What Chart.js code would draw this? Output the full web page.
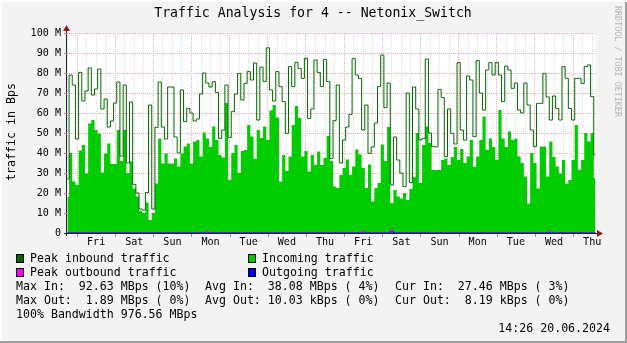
<!DOCTYPE html>
<html lang="en">
<head>
  <meta charset="UTF-8">
  <title>Traffic Analysis for 4 -- Netonix_Switch</title>
  <script src="https://cdn.jsdelivr.net/npm/chart.js"></script>
  <style>
    body {
      margin: 0;
      background: #f3f3f3;
    }
    canvas {
      display: block;
    }
  </style>
</head>
<body>
  <canvas id="traffic" width="627" height="343"></canvas>

  <script>
    // one sample every 2 hours, hour 0 = Friday 00:00 of the first week
    const START_HOUR = -6;
    const STEP_HOURS = 2;

    const dayLabels = ['Fri', 'Sat', 'Sun', 'Mon', 'Tue', 'Wed', 'Thu',
                       'Fri', 'Sat', 'Sun', 'Mon', 'Tue', 'Wed', 'Thu'];

    const yTickLabels = ['0', '10 M', '20 M', '30 M', '40 M', '50 M', '60 M', '70 M', '80 M', '90 M', '100 M'];

    // peak inbound, MBps (millions)
    const peakIn = [
      27, 79, 74, 47, 80.3, 66, 71, 82.5, 69, 72,
      82, 62, 67, 53, 56, 65, 75.5, 38.5, 74, 35,
      65.5, 24.3, 20, 12, 11.5, 20.2, 64, 12, 52.8, 75.5,
      53, 47, 73, 73, 48, 40, 71.5, 55.7, 62.3, 60,
      56, 57, 69.5, 80, 75, 73, 75.7, 70.3, 47.3, 51.5,
      74, 47.8, 60.7, 69.5, 79.8, 66.5, 74.8, 80.7, 76.5, 85,
      56.5, 83, 75.7, 92.6, 71.5, 66, 80.7, 73.2, 65.7, 49.8,
      83.2, 73.2, 85.3, 82.3, 77.3, 87.3, 57.2, 62, 86.5, 80.3,
      73.2, 86.8, 75.7, 37.3, 56.2, 74, 35, 46.5, 53, 59.3,
      87.2, 79, 77.3, 51.5, 64, 39.8, 43, 55, 73.2, 89,
      62.7, 75, 24, 48, 36.5, 30, 23.2, 70, 25.2, 73,
      62, 46.5, 47.3, 87, 50, 43.2, 43, 71.8, 67.7, 38.2,
      62, 49.8, 44.5, 85.2, 51.5, 46.5, 78.5, 76.5, 48.2, 86.2,
      70, 61.5, 81.5, 85.2, 79, 85.2, 79, 65.7, 83.5, 81.5,
      72.3, 75, 61.5, 60, 75, 64, 51.5, 43.2, 64.8, 64.8,
      79.8, 68, 56.5, 68.5, 62.3, 56.5, 83.2, 77.3, 62.3, 56.5,
      77.3, 77.3, 74.8, 83.2, 84, 68.2, 39
    ];

    // incoming traffic, MBps (millions)
    const incoming = [
      18, 40, 25.7, 24, 41.2, 44, 29.8, 54.8, 56.5, 51.5,
      49.8, 30.2, 39.8, 44.8, 34.5, 34.5, 51.5, 36, 51.5, 30,
      35.7, 22.3, 18.2, 11, 10, 15.2, 6.5, 10, 24.8, 47.3,
      34.8, 39.8, 34.8, 34.8, 37.3, 33.2, 39.8, 43.2, 44.8, 34.8,
      45.7, 46.5, 38.2, 50.2, 47.3, 43, 53.2, 46.5, 39, 37.8,
      65, 26.5, 40, 44, 30, 41, 41.5, 54, 48.3, 37,
      51.5, 47.5, 53.2, 46.5, 61.2, 64, 57.8, 25.7, 39, 31,
      38.3, 54, 63.5, 57.5, 38.3, 41, 30.7, 39, 34, 40.8,
      34, 37.5, 48.5, 36, 23.2, 22.5, 29, 32.5, 36.7, 29,
      33.3, 41.7, 39.2, 32.5, 22.5, 34.2, 15.7, 22.5, 25, 44.2,
      36, 53, 15, 21.5, 18.2, 17.3, 20, 16.5, 22, 28,
      50, 25, 44, 53.2, 45, 31.5, 31.5, 31.5, 36.5, 37.3,
      34, 38, 43, 36.5, 42, 35, 38.2, 46.5, 33, 38.2,
      46.5, 58.2, 41.5, 47.3, 43, 36.5, 61.5, 47.3, 43, 50.7,
      46.5, 47.3, 38.2, 35, 28.2, 14.8, 40, 35, 22.3, 43.2,
      43.2, 28.2, 45.7, 38, 33.2, 29.8, 36.5, 24.8, 26.5, 36.5,
      54, 31.5, 36.5, 50, 45.7, 50, 27.5
    ];

    // peak outbound, MBps (millions)
    const peakOut = [
      0.01, 0.01, 0.01, 0.01, 0.01, 0.01, 0.01, 0.01, 0.01, 0.01,
      0.01, 0.01, 0.01, 0.01, 0.01, 0.01, 0.01, 0.01, 0.01, 0.01,
      0.01, 0.01, 0.01, 0.01, 0.01, 0.01, 0.01, 0.01, 0.01, 0.01,
      0.01, 0.01, 0.01, 0.01, 0.01, 0.01, 0.01, 0.01, 0.01, 0.01,
      0.01, 0.01, 0.01, 0.01, 0.8, 0.01, 0.01, 0.01, 0.01, 0.01,
      0.01, 0.01, 0.01, 0.01, 0.01, 0.01, 0.01, 0.01, 0.01, 0.01,
      0.01, 0.01, 0.01, 0.01, 0.01, 0.01, 0.01, 0.01, 0.01, 0.01,
      0.01, 0.01, 0.01, 0.01, 0.01, 0.01, 0.01, 0.01, 0.01, 0.01,
      0.01, 0.01, 0.01, 0.01, 0.01, 0.01, 0.01, 0.01, 0.01, 0.01,
      0.01, 0.01, 0.01, 0.8, 0.01, 0.01, 0.01, 0.01, 0.01, 0.01,
      0.01, 0.01, 1.89, 0.01, 0.01, 0.01, 0.01, 0.01, 0.01, 0.01,
      0.01, 0.01, 0.01, 0.01, 0.01, 0.01, 0.01, 0.01, 0.01, 0.01,
      0.01, 0.01, 0.01, 0.01, 0.01, 0.01, 0.01, 0.01, 0.01, 0.01,
      0.01, 0.01, 0.01, 0.01, 0.01, 0.01, 0.01, 0.01, 0.01, 0.01,
      0.01, 0.01, 0.01, 0.01, 0.01, 0.01, 0.01, 0.01, 0.01, 0.01,
      0.01, 0.01, 0.8, 0.01, 0.01, 0.01, 0.01, 0.01, 0.01, 0.01,
      0.01, 0.01, 0.01, 0.01, 0.01, 0.01, 0.01
    ];

    // outgoing traffic, MBps (millions)
    const outgoing = [
      0.01, 0.01, 0.01, 0.01, 0.01, 0.01, 0.01, 0.01, 0.01, 0.01,
      0.01, 0.01, 0.01, 0.01, 0.01, 0.01, 0.01, 0.01, 0.01, 0.01,
      0.01, 0.01, 0.01, 0.01, 0.01, 0.01, 0.01, 0.01, 0.01, 0.01,
      0.01, 0.01, 0.01, 0.01, 0.01, 0.01, 0.01, 0.01, 0.01, 0.01,
      0.01, 0.01, 0.01, 0.01, 0.01, 0.01, 0.01, 0.01, 0.01, 0.01,
      0.01, 0.01, 0.01, 0.01, 0.01, 0.01, 0.01, 0.01, 0.01, 0.01,
      0.01, 0.01, 0.01, 0.01, 0.01, 0.01, 0.01, 0.01, 0.01, 0.01,
      0.01, 0.01, 0.01, 0.01, 0.01, 0.01, 0.01, 0.01, 0.01, 0.01,
      0.01, 0.01, 0.01, 0.01, 0.01, 0.01, 0.01, 0.01, 0.01, 0.01,
      0.01, 0.01, 0.01, 0.01, 0.01, 0.01, 0.01, 0.01, 0.01, 0.01,
      0.01, 0.01, 0.6, 0.01, 0.01, 0.01, 0.01, 0.01, 0.01, 0.01,
      0.01, 0.01, 0.01, 0.01, 0.01, 0.01, 0.01, 0.01, 0.01, 0.01,
      0.01, 0.01, 0.01, 0.01, 0.01, 0.01, 0.01, 0.01, 0.01, 0.01,
      0.01, 0.01, 0.01, 0.01, 0.01, 0.01, 0.01, 0.01, 0.01, 0.01,
      0.01, 0.01, 0.01, 0.01, 0.01, 0.01, 0.01, 0.01, 0.01, 0.01,
      0.01, 0.01, 0.01, 0.01, 0.01, 0.01, 0.01, 0.01, 0.01, 0.01,
      0.01, 0.01, 0.01, 0.01, 0.01, 0.01, 0.01
    ];

    const legendRows = [
      ['Max In:  92.63 MBps (10%)', 'Avg In:  38.08 MBps ( 4%)', 'Cur In:  27.46 MBps ( 3%)'],
      ['Max Out:  1.89 MBps ( 0%)', 'Avg Out: 10.03 kBps ( 0%)', 'Cur Out:  8.19 kBps ( 0%)']
    ];

    const MONO = '"DejaVu Sans Mono", monospace';
    const toPoints = (arr) => arr.map((v, i) => ({ x: START_HOUR + i * STEP_HOURS, y: v }));

    // titles, legend, axes arrows and frame, drawn like rrdtool does
    const rrdDecor = {
      id: 'rrdDecor',
      afterDatasetsDraw(chart) {
        const { ctx, chartArea: a } = chart;
        ctx.save();
        // axes
        ctx.strokeStyle = '#202030';
        ctx.lineWidth = 1;
        ctx.beginPath();
        ctx.moveTo(a.left - 0.5, a.bottom + 3);
        ctx.lineTo(a.left - 0.5, a.top - 3);
        ctx.moveTo(a.left - 3, a.bottom + 0.5);
        ctx.lineTo(a.right + 4, a.bottom + 0.5);
        ctx.stroke();
        // tick marks
        const xs = chart.scales.x, ys = chart.scales.y;
        ctx.strokeStyle = '#c08080';
        ctx.beginPath();
        for (let h = 0; h <= 324; h += 24) {
          const px = Math.round(xs.getPixelForValue(h)) + 0.5;
          ctx.moveTo(px, a.bottom + 1);
          ctx.lineTo(px, a.bottom + 4);
        }
        for (let v = 10; v <= 100; v += 10) {
          const py = Math.round(ys.getPixelForValue(v)) + 0.5;
          ctx.moveTo(a.left - 3, py);
          ctx.lineTo(a.left, py);
        }
        ctx.stroke();
        // arrows
        ctx.fillStyle = '#8b1a1a';
        ctx.beginPath();
        ctx.moveTo(a.left - 4, a.top - 2);
        ctx.lineTo(a.left + 3, a.top - 2);
        ctx.lineTo(a.left - 0.5, a.top - 8);
        ctx.closePath();
        ctx.fill();
        ctx.beginPath();
        ctx.moveTo(a.right + 1, a.bottom - 3);
        ctx.lineTo(a.right + 1, a.bottom + 4);
        ctx.lineTo(a.right + 7, a.bottom + 0.5);
        ctx.closePath();
        ctx.fill();

        // title
        ctx.fillStyle = '#000';
        ctx.textBaseline = 'middle';
        ctx.textAlign = 'center';
        ctx.font = '13.2px ' + MONO;
        ctx.fillText('Traffic Analysis for 4 -- Netonix_Switch', 313, 14);

        // y title
        ctx.save();
        ctx.translate(12, 132);
        ctx.rotate(-Math.PI / 2);
        ctx.font = '11.6px ' + MONO;
        ctx.fillText('traffic in Bps', 0, 0);
        ctx.restore();

        // watermark
        ctx.save();
        ctx.translate(617, 6);
        ctx.rotate(Math.PI / 2);
        ctx.textAlign = 'left';
        ctx.fillStyle = '#b4b4b4';
        ctx.font = '8.4px ' + MONO;
        ctx.fillText('RRDTOOL / TOBI OETIKER', 0, 0);
        ctx.restore();

        // legend
        ctx.textAlign = 'left';
        ctx.font = '11.6px ' + MONO;
        const swatches = [
          ['#006600', 'Peak inbound traffic', 16, 259],
          ['#00cc00', 'Incoming traffic', 248, 259],
          ['#ff00ff', 'Peak outbound traffic', 16, 273],
          ['#0000ff', 'Outgoing traffic', 248, 273]
        ];
        swatches.forEach(([color, label, x, y]) => {
          ctx.fillStyle = color;
          ctx.fillRect(x, y - 5, 8, 9);
          ctx.strokeStyle = '#000';
          ctx.strokeRect(x + 0.5, y - 4.5, 7, 8);
          ctx.fillStyle = '#000';
          ctx.fillText(label, x + 14, y);
        });
        const cols = [16, 205, 395];
        legendRows.forEach((row, r) => {
          row.forEach((txt, c) => ctx.fillText(txt, cols[c], 287 + r * 14));
        });
        ctx.fillText('100% Bandwidth 976.56 MBps', 16, 315);
        ctx.textAlign = 'right';
        ctx.fillText('14:26 20.06.2024', 610, 329);

        // frame
        ctx.fillStyle = '#9c9c9c';
        ctx.fillRect(625, 0, 2, 343);
        ctx.fillRect(0, 341, 627, 2);
        ctx.fillStyle = '#fcfcfc';
        ctx.fillRect(0, 0, 627, 2);
        ctx.fillRect(0, 0, 2, 341);
        ctx.restore();
      }
    };

    // white plot background
    const plotBackground = {
      id: 'plotBackground',
      beforeDraw(chart) {
        const { ctx, chartArea: a } = chart;
        ctx.save();
        ctx.fillStyle = '#ffffff';
        ctx.fillRect(a.left, a.top, a.right - a.left, a.bottom - a.top);
        ctx.restore();
      }
    };

    const ctx = document.getElementById('traffic').getContext('2d');
    Chart.defaults.font.family = MONO;

    new Chart(ctx, {
      type: 'line',
      data: {
        datasets: [
          {
            label: 'Peak inbound traffic',
            data: toPoints(peakIn),
            stepped: 'middle',
            borderColor: '#006600',
            borderWidth: 1,
            pointRadius: 0,
            fill: false,
            order: 1
          },
          {
            label: 'Incoming traffic',
            data: toPoints(incoming),
            stepped: 'middle',
            borderWidth: 0,
            borderColor: '#00cc00',
            backgroundColor: '#00cc00',
            pointRadius: 0,
            fill: 'origin',
            order: 4
          },
          {
            label: 'Outgoing traffic',
            data: toPoints(outgoing),
            stepped: 'middle',
            borderColor: '#0000ff',
            borderWidth: 1,
            pointRadius: 0,
            fill: false,
            clip: { left: 0, top: 0, right: 0, bottom: 2 },
            order: 2
          },
          {
            label: 'Peak outbound traffic',
            data: toPoints(peakOut),
            stepped: 'middle',
            borderColor: '#ff00ff',
            borderWidth: 1,
            pointRadius: 0,
            fill: false,
            clip: { left: 0, top: 0, right: 0, bottom: 2 },
            order: 3
          }
        ]
      },
      options: {
        responsive: false,
        animation: false,
        layout: { padding: { left: 0, top: 33, right: 31, bottom: 0 } },
        plugins: {
          legend: { display: false },
          tooltip: { enabled: false },
          title: { display: false }
        },
        scales: {
          x: {
            type: 'linear',
            min: -6.3,
            max: 326.4,
            afterBuildTicks(scale) {
              const ticks = [];
              for (let h = -6; h <= 324; h += 6) ticks.push({ value: h });
              scale.ticks = ticks;
            },
            afterFit(scale) {
              scale.height = 110;
              scale.paddingLeft = 0;
              scale.paddingRight = 0;
            },
            ticks: {
              autoSkip: false,
              maxRotation: 0,
              padding: 3,
              color: '#000',
              font: { size: 10.1 },
              callback: (v) => ((v - 12) % 24 === 0 ? dayLabels[(v - 12) / 24] : '')
            },
            grid: {
              drawTicks: false,
              color: (c) => (c.tick && c.tick.value % 24 === 0 ? '#e9b0b0' : '#dcdcdc')
            },
            border: { display: false, dash: [1, 1] }
          },
          y: {
            min: 0,
            max: 100,
            afterBuildTicks(scale) {
              const ticks = [];
              for (let v = 0; v <= 100; v += 5) ticks.push({ value: v });
              scale.ticks = ticks;
            },
            afterFit(scale) {
              scale.width = 67;
            },
            ticks: {
              padding: 6,
              color: '#000',
              font: { size: 10.1 },
              callback: (v) => (v % 10 === 0 ? yTickLabels[v / 10] : '')
            },
            grid: {
              drawTicks: false,
              color: (c) => (c.tick && c.tick.value % 10 === 0 ? '#e9b0b0' : '#dcdcdc')
            },
            border: { display: false, dash: [1, 1] }
          }
        }
      },
      plugins: [plotBackground, rrdDecor]
    });
  </script>
</body>
</html>
